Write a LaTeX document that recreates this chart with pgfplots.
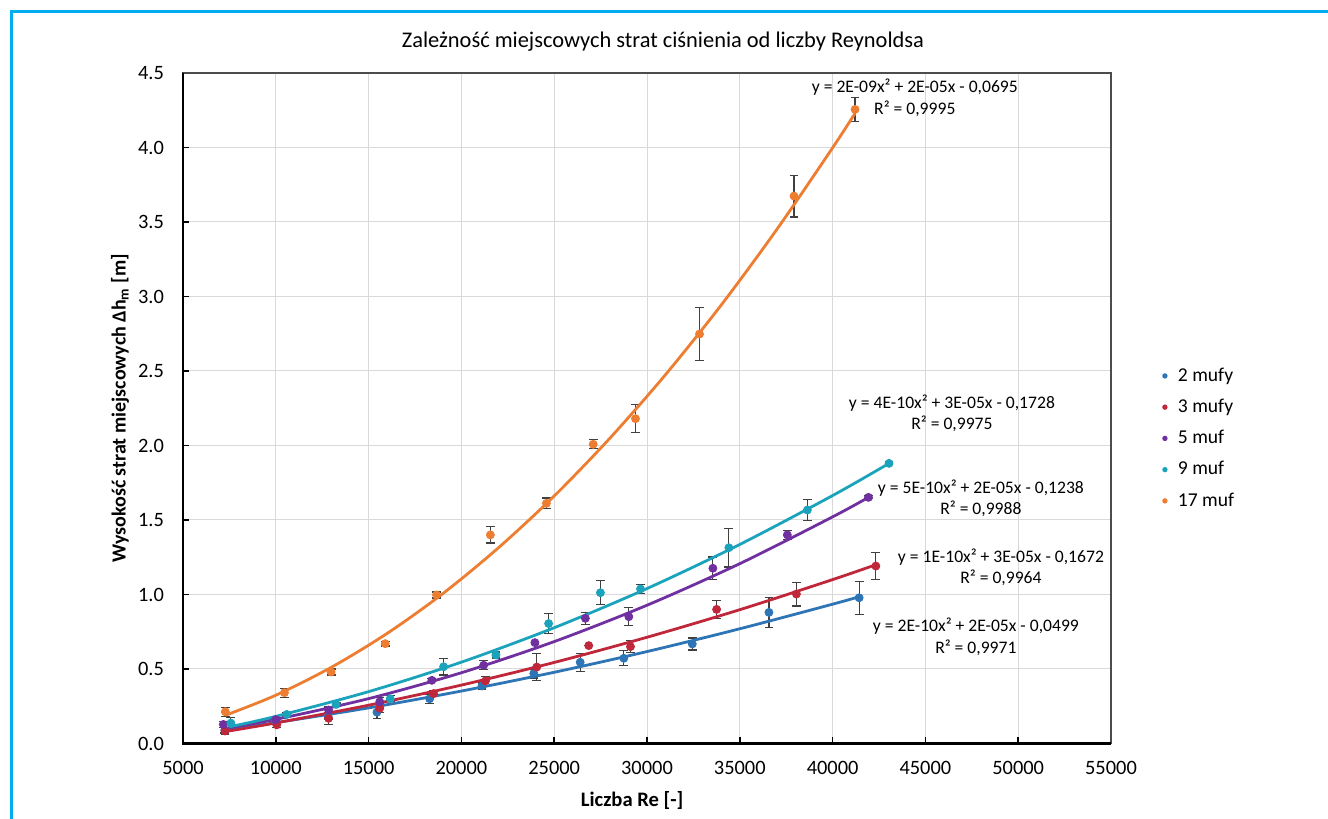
\documentclass[border=0pt]{standalone}
\usepackage{pgfplots}
\pgfplotsset{compat=1.18}
\usepackage{pgfplotstable}
\usepackage{fontspec}
\setmainfont{Carlito}
\definecolor{cblue}{RGB}{46,117,182}
\definecolor{cred}{RGB}{192,39,58}
\definecolor{cpurple}{RGB}{112,48,160}
\definecolor{ccyan}{RGB}{28,163,188}
\definecolor{corange}{RGB}{237,125,49}
\definecolor{borderblue}{RGB}{0,174,239}

\pgfplotstableread{
x y e
7250 0.09 0.02
9960 0.158 0.02
12820 0.18 0.02
15450 0.21 0.04
18290 0.30 0.03
21110 0.386 0.02
23900 0.47 0.03
26400 0.545 0.06
28750 0.572 0.05
32440 0.668 0.04
36570 0.88 0.10
41430 0.978 0.11
}\blue
\pgfplotstableread{
x y e
7265 0.084 0.02
10050 0.125 0.02
12840 0.169 0.04
15600 0.236 0.03
18500 0.335 0.02
21300 0.42 0.03
24060 0.513 0.09
26860 0.657 0
29110 0.65 0.04
33750 0.90 0.06
38050 1.003 0.08
42330 1.191 0.09
}\red
\pgfplotstableread{
x y e
7175 0.128 0.02
10000 0.16 0.01
12840 0.225 0.02
15600 0.28 0.03
18410 0.424 0.01
21200 0.525 0.03
23960 0.677 0.01
26680 0.84 0.04
29020 0.851 0.06
33550 1.176 0.075
37560 1.40 0.03
41930 1.652 0.01
}\purple
\pgfplotstableread{
x y e
7580 0.137 0.04
10590 0.195 0.01
13250 0.262 0.01
16165 0.30 0.02
19040 0.515 0.055
21860 0.594 0.02
24700 0.805 0.065
27490 1.012 0.08
29650 1.037 0.03
34410 1.314 0.13
38640 1.567 0.07
43040 1.88 0.01
}\cyan
\pgfplotstableread{
x y e
7280 0.213 0.03
10466 0.341 0.03
12980 0.48 0.02
15896 0.67 0.015
18660 0.997 0.02
21560 1.40 0.055
24580 1.612 0.035
27100 2.008 0.03
29380 2.18 0.095
32830 2.748 0.18
37920 3.674 0.14
41210 4.256 0.08
}\orange

\begin{document}
\begin{tikzpicture}
\useasboundingbox (0,0) rectangle (664pt,409.5pt);
\draw[borderblue, line width=1.5pt] (5.5pt,0) -- (5.5pt,403.5pt) -- (664pt,403.5pt);
\begin{axis}[
  at={(91.5pt,37.75pt)}, anchor=south west,
  scale only axis, width=464pt, height=335.25pt,
  xmin=5000, xmax=55000, ymin=0, ymax=4.5,
  xtick={5000,10000,...,55000},
  ytick={0,0.5,...,4.5},
  clip=false,
  grid=major,
  grid style={black!15, line width=0.5pt},
  axis line style={black!70, line width=0.7pt},
  tick align=inside, major tick length=3pt,
  tick style={black, line width=0.8pt},
  xtick pos=bottom, ytick pos=left,
  /pgf/number format/assume math mode=true,
  x tick label style={/pgf/number format/set thousands separator={}, font=\fontsize{10.2}{12}\selectfont, yshift=-5.5pt},
  y tick label style={/pgf/number format/.cd, fixed, fixed zerofill, precision=1, /tikz/.cd, font=\fontsize{10.2}{12}\selectfont, xshift=-6pt},
  scaled x ticks=false,
  every axis title shift=0pt,
  title={Zależność miejscowych strat ciśnienia od liczby Reynoldsa},
  title style={font=\fontsize{11.2}{13}\selectfont, anchor=center, at={(axis description cs:0.5172,1.0462)}},
  xlabel={\textbf{Liczba Re [-]}},
  xlabel style={font=\fontsize{10.3}{12}\selectfont, anchor=center, at={(axis description cs:0.484,-0.085)}},
  ylabel={\textbf{Wysokość strat miejscowych Δh\textsubscript{m} [m]}},
  ylabel style={font=\fontsize{10}{12}\selectfont, anchor=center, at={(axis description cs:-0.068,0.5)}},
  legend style={at={(axis description cs:1.042,0.57)}, anchor=north west, draw=none, fill=none,
    font=\fontsize{9.8}{11}\selectfont, row sep=5.4pt, nodes={inner sep=1pt}},
  legend cell align=left,
  legend image code/.code={\path[draw=none, fill=none] (-0.05cm,0cm) -- (0.1cm+5.5pt,0cm); \fill[draw=none] (0.1cm,0cm) circle (1.35pt);},
]
\pgfplotsset{dat/.style={only marks, mark=*, mark size=2pt, color=#1,
  error bars/.cd, y dir=both, y explicit,
  error bar style={black!75, line width=0.6pt},
  error mark options={rotate=90, mark size=2.2pt, black!75, line width=0.6pt}}}
\pgfplotsset{trend/.style={smooth, no marks, line width=1.4pt, color=#1, forget plot}}

\addplot[dat=cblue] table[x=x, y=y, y error=e] {\blue};
\addlegendentry{2 mufy}
\addplot[dat=cred] table[x=x, y=y, y error=e] {\red};
\addlegendentry{3 mufy}
\addplot[dat=cpurple] table[x=x, y=y, y error=e] {\purple};
\addlegendentry{5 muf}
\addplot[dat=ccyan] table[x=x, y=y, y error=e] {\cyan};
\addlegendentry{9 muf}
\addplot[dat=corange] table[x=x, y=y, y error=e] {\orange};
\addlegendentry{17 muf}

% trendlines
\addplot[trend=cblue] coordinates {(7200,0.09) (10000,0.140) (15000,0.239) (20000,0.352) (25000,0.478) (30000,0.617) (35000,0.770) (40000,0.935) (41430,0.985)};
\addplot[trend=cred] coordinates {(7270,0.08) (10000,0.138) (15000,0.257) (20000,0.392) (25000,0.544) (30000,0.713) (35000,0.898) (40000,1.100) (42330,1.200)};
\addplot[trend=cpurple] coordinates {(7200,0.100) (10000,0.162) (15000,0.301) (20000,0.475) (25000,0.684) (30000,0.928) (35000,1.207) (40000,1.521) (41930,1.652)};
\addplot[trend=ccyan] coordinates {(7500,0.112) (10000,0.182) (15000,0.348) (20000,0.546) (25000,0.777) (30000,1.040) (35000,1.336) (40000,1.664) (43040,1.880)};
\addplot[trend=corange] coordinates {(7300,0.19) (10000,0.324) (13000,0.512) (16000,0.739) (19000,1.006) (22000,1.314) (25000,1.661) (28000,2.049) (31000,2.476) (34000,2.943) (37000,3.451) (40000,3.998) (41210,4.23)};

\draw[black, line width=1.3pt] (rel axis cs:0,1) -- (rel axis cs:0,0) -- (rel axis cs:1,0);

\begin{scope}[every node/.style={font=\fontsize{8.8}{10.75}\selectfont, align=center, anchor=center}]
\node at (axis cs:44430,4.332) {y = 2E-09x² + 2E-05x - 0,0695\\R² = 0,9995};
\node at (axis cs:46430,2.215) {y = 4E-10x² + 3E-05x - 0,1728\\R² = 0,9975};
\node at (axis cs:47990,1.646) {y = 5E-10x² + 2E-05x - 0,1238\\R² = 0,9988};
\node at (axis cs:49070,1.183) {y = 1E-10x² + 3E-05x - 0,1672\\R² = 0,9964};
\node at (axis cs:47720,0.717) {y = 2E-10x² + 2E-05x - 0,0499\\R² = 0,9971};
\end{scope}
\end{axis}
\end{tikzpicture}
\end{document}
